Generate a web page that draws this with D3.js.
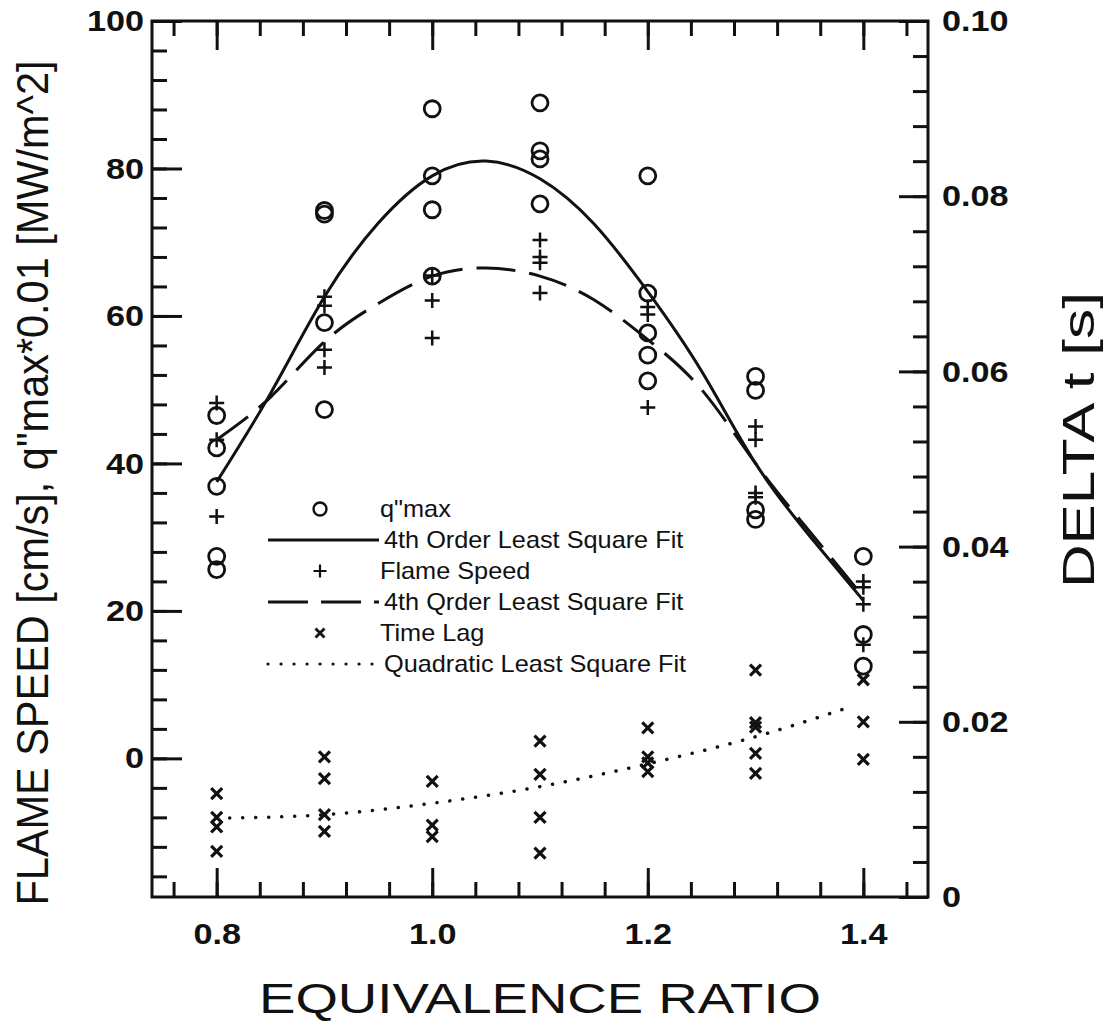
<!doctype html>
<html>
<head>
  <meta charset="utf-8">
  <title>Flame speed vs equivalence ratio</title>
  <style>
    body { margin: 0; background: #fff; }
    text { font-family: "Liberation Sans", Arial, Helvetica, sans-serif; fill: #111; }
  </style>
</head>
<body>
<div class="graphContainer"></div>
<script src="https://cdn.jsdelivr.net/npm/d3@7"></script>
<script>

// equivalence ratio columns
const phi = [0.8, 0.9, 1.0, 1.1, 1.2, 1.3, 1.4];

// q"max*0.01 [MW/m^2], one list per column
const qmax = [
  [46.5, 42.1, 36.9, 27.4, 25.6],
  [74.3, 73.8, 59.1, 47.3],
  [88.1, 79.0, 74.4, 65.4],
  [88.9, 82.4, 81.3, 75.2],
  [79.0, 63.1, 57.7, 54.7, 51.2],
  [51.8, 49.9, 33.7, 32.4],
  [27.4, 16.8, 12.5]
];

// flame speed [cm/s]
const flameSpeed = [
  [48.2, 43.2, 32.8],
  [62.6, 61.4, 55.4, 53.0],
  [65.5, 62.1, 57.0],
  [70.3, 68.0, 67.2, 63.1],
  [61.2, 60.2, 47.6],
  [45.0, 43.2, 36.0, 35.4],
  [24.0, 23.2, 20.9, 15.4]
];

// time lag DELTA t [s]
const timeLag = [
  [0.0118, 0.0091, 0.0080, 0.0052],
  [0.0160, 0.0135, 0.0094, 0.0075],
  [0.0132, 0.0082, 0.0069],
  [0.0178, 0.0140, 0.0091, 0.0050],
  [0.0193, 0.0160, 0.0153, 0.0143],
  [0.0259, 0.0199, 0.0194, 0.0164, 0.0141],
  [0.0248, 0.0200, 0.0157]
];

// fitted curves
const fitX     = [0.8, 0.85, 0.9, 0.95, 1.0, 1.05, 1.1, 1.15, 1.2, 1.25, 1.3, 1.35, 1.4];
const qmaxFit  = [37.5, 49.5, 62.6, 72.6, 79.0, 81.0, 78.6, 72.5, 63.3, 52.5, 40.0, 30.2, 21.4];
const flameFit = [43.2, 49.0, 56.5, 61.7, 65.4, 66.5, 65.4, 62.2, 56.8, 50.0, 40.0, 30.8, 21.9];
const lagFitX  = [0.8, 0.9, 1.0, 1.1, 1.2, 1.3, 1.39];
const lagFit   = [0.0090, 0.0094, 0.0107, 0.0126, 0.0152, 0.0183, 0.0218];

const xMajor = [0.8, 1.0, 1.2, 1.4];
const xMinor = d3.range(19, 37).map(d => d * 0.04);
const yMajor = [0, 20, 40, 60, 80, 100];
const yMinor = d3.range(-4, 25).map(d => d * 4);
const rMajor = [0, 0.02, 0.04, 0.06, 0.08, 0.10];
const rMinor = d3.range(1, 25).map(d => d * 0.004);

const legendItems = [
  { label: 'q"max', kind: "circle" },
  { label: "4th Order Least Square Fit", kind: "solid" },
  { label: "Flame Speed", kind: "plus" },
  { label: "4th Qrder Least Square Fit", kind: "dashed" },
  { label: "Time Lag", kind: "cross" },
  { label: "Quadratic Least Square Fit", kind: "dotted" }
];

function draw() {
  var w = 1108, h = 1031;
  var left = 152, right = 928, top = 21, bottom = 897;

  var svg = d3.select(".graphContainer")
    .append("svg")
    .attr("width", w)
    .attr("height", h);

  var x = d3.scaleLinear().domain([0.74, 1.46]).range([left, right]);
  var y = d3.scaleLinear().domain([-18.8, 100]).range([bottom, top]);
  var y2 = d3.scaleLinear().domain([0, 0.1]).range([bottom, top]);

  // axes: minor ticks first, then major with labels
  function styleAxis(g) {
    g.select(".domain").remove();
    g.selectAll(".tick line").attr("stroke", "#111").attr("stroke-width", 3);
    g.selectAll(".tick text")
      .attr("font-size", 30).attr("font-weight", "bold").attr("fill", "#111")
      .each(function() {
        var len = this.getComputedTextLength();
        d3.select(this).attr("textLength", len * 1.14).attr("lengthAdjust", "spacingAndGlyphs");
      });
  }

  svg.append("g").attr("transform", `translate(0,${bottom})`)
    .call(d3.axisBottom(x).tickValues(xMinor).tickSize(-15).tickFormat(""))
    .call(styleAxis);
  svg.append("g").attr("transform", `translate(0,${bottom})`)
    .call(d3.axisBottom(x).tickValues(xMajor).tickSize(-29).tickPadding(26).tickFormat(d3.format(".1f")))
    .call(styleAxis);
  svg.append("g").attr("transform", `translate(0,${top})`)
    .call(d3.axisTop(x).tickValues(xMinor).tickSize(-15).tickFormat(""))
    .call(styleAxis);
  svg.append("g").attr("transform", `translate(0,${top})`)
    .call(d3.axisTop(x).tickValues(xMajor).tickSize(-29).tickFormat(""))
    .call(styleAxis);

  svg.append("g").attr("transform", `translate(${left},0)`)
    .call(d3.axisLeft(y).tickValues(yMinor).tickSize(-15).tickFormat(""))
    .call(styleAxis);
  svg.append("g").attr("transform", `translate(${left},0)`)
    .call(d3.axisLeft(y).tickValues(yMajor).tickSize(-30).tickPadding(8).tickFormat(d3.format("d")))
    .call(styleAxis);

  svg.append("g").attr("transform", `translate(${right},0)`)
    .call(d3.axisRight(y2).tickValues(rMinor).tickSize(-15).tickFormat(""))
    .call(styleAxis);
  svg.append("g").attr("transform", `translate(${right},0)`)
    .call(d3.axisRight(y2).tickValues(rMajor).tickSize(-29).tickPadding(14)
      .tickFormat(d => d === 0 ? "0" : d3.format(".2f")(d)))
    .call(styleAxis);

  // frame
  svg.append("rect")
    .attr("x", left).attr("y", top)
    .attr("width", right - left).attr("height", bottom - top)
    .attr("fill", "none").attr("stroke", "#111").attr("stroke-width", 3);

  // axis titles
  svg.append("text")
    .attr("x", (left + right) / 2).attr("y", 1013)
    .attr("text-anchor", "middle")
    .attr("font-size", 42)
    .attr("textLength", 562).attr("lengthAdjust", "spacingAndGlyphs")
    .text("EQUIVALENCE RATIO");

  svg.append("text")
    .attr("transform", "translate(48,483) rotate(-90)")
    .attr("text-anchor", "middle")
    .attr("font-size", 44)
    .attr("textLength", 845).attr("lengthAdjust", "spacingAndGlyphs")
    .text('FLAME SPEED [cm/s], q"max*0.01 [MW/m^2]');

  svg.append("text")
    .attr("transform", "translate(1094,440) rotate(-90)")
    .attr("text-anchor", "middle")
    .attr("font-size", 45)
    .attr("textLength", 296).attr("lengthAdjust", "spacingAndGlyphs")
    .text("DELTA t [s]");

  // curves
  var lineL = d3.line().x(d => x(d[0])).y(d => y(d[1])).curve(d3.curveNatural);
  var lineR = d3.line().x(d => x(d[0])).y(d => y2(d[1])).curve(d3.curveNatural);

  svg.append("path")
    .attr("d", lineL(d3.zip(fitX, qmaxFit)))
    .attr("fill", "none").attr("stroke", "#111").attr("stroke-width", 3);
  svg.append("path")
    .attr("d", lineL(d3.zip(fitX, flameFit)))
    .attr("fill", "none").attr("stroke", "#111").attr("stroke-width", 3)
    .attr("stroke-dasharray", "39,14");
  svg.append("path")
    .attr("d", lineR(d3.zip(lagFitX, lagFit)))
    .attr("fill", "none").attr("stroke", "#111").attr("stroke-width", 3.5)
    .attr("stroke-linecap", "round").attr("stroke-dasharray", "0.1,12.9");

  // markers
  function flat(arr) {
    var out = [];
    arr.forEach((col, i) => col.forEach(v => out.push([phi[i], v])));
    return out;
  }
  function plusPath(s) { return `M${-s},0H${s}M0,${-s}V${s}`; }
  function crossPath(s) { return `M${-s},${-s}L${s},${s}M${-s},${s}L${s},${-s}`; }

  svg.append("g").selectAll("circle")
    .data(flat(qmax)).join("circle")
    .attr("cx", d => x(d[0])).attr("cy", d => y(d[1]))
    .attr("r", 8)
    .attr("fill", "none").attr("stroke", "#111").attr("stroke-width", 2.8);

  svg.append("g").selectAll("path")
    .data(flat(flameSpeed)).join("path")
    .attr("transform", d => `translate(${x(d[0])},${y(d[1])})`)
    .attr("d", plusPath(7.5))
    .attr("fill", "none").attr("stroke", "#111").attr("stroke-width", 2.5);

  svg.append("g").selectAll("path")
    .data(flat(timeLag)).join("path")
    .attr("transform", d => `translate(${x(d[0])},${y2(d[1])})`)
    .attr("d", crossPath(5.5))
    .attr("fill", "none").attr("stroke", "#111").attr("stroke-width", 3.2);

  // legend
  var lg = svg.append("g").attr("class", "legend");
  legendItems.forEach((it, i) => {
    var cy = 509 + i * 31;
    var g = lg.append("g").attr("transform", `translate(0,${cy})`);
    if (it.kind === "circle") {
      g.append("circle").attr("cx", 320).attr("r", 6.5)
        .attr("fill", "none").attr("stroke", "#111").attr("stroke-width", 2.4);
    } else if (it.kind === "plus") {
      g.append("path").attr("transform", "translate(320,0)").attr("d", plusPath(6.5))
        .attr("stroke", "#111").attr("stroke-width", 2.2);
    } else if (it.kind === "cross") {
      g.append("path").attr("transform", "translate(320,0)").attr("d", crossPath(4.5))
        .attr("stroke", "#111").attr("stroke-width", 2.8);
    } else {
      var ln = g.append("line").attr("x1", 268).attr("x2", 379)
        .attr("stroke", "#111").attr("stroke-width", it.kind === "dotted" ? 3.2 : 3);
      if (it.kind === "dashed") ln.attr("stroke-dasharray", "40,13");
      if (it.kind === "dotted") ln.attr("stroke-linecap", "round").attr("stroke-dasharray", "0.1,12.9");
    }
    g.append("text")
      .attr("transform", `translate(${it.kind === "circle" || it.kind === "plus" || it.kind === "cross" ? 380 : 384},0) scale(1.1,1)`)
      .attr("dy", "0.36em")
      .attr("font-size", 23)
      .text(it.label);
  });
}

draw();

</script>
</body>
</html>
